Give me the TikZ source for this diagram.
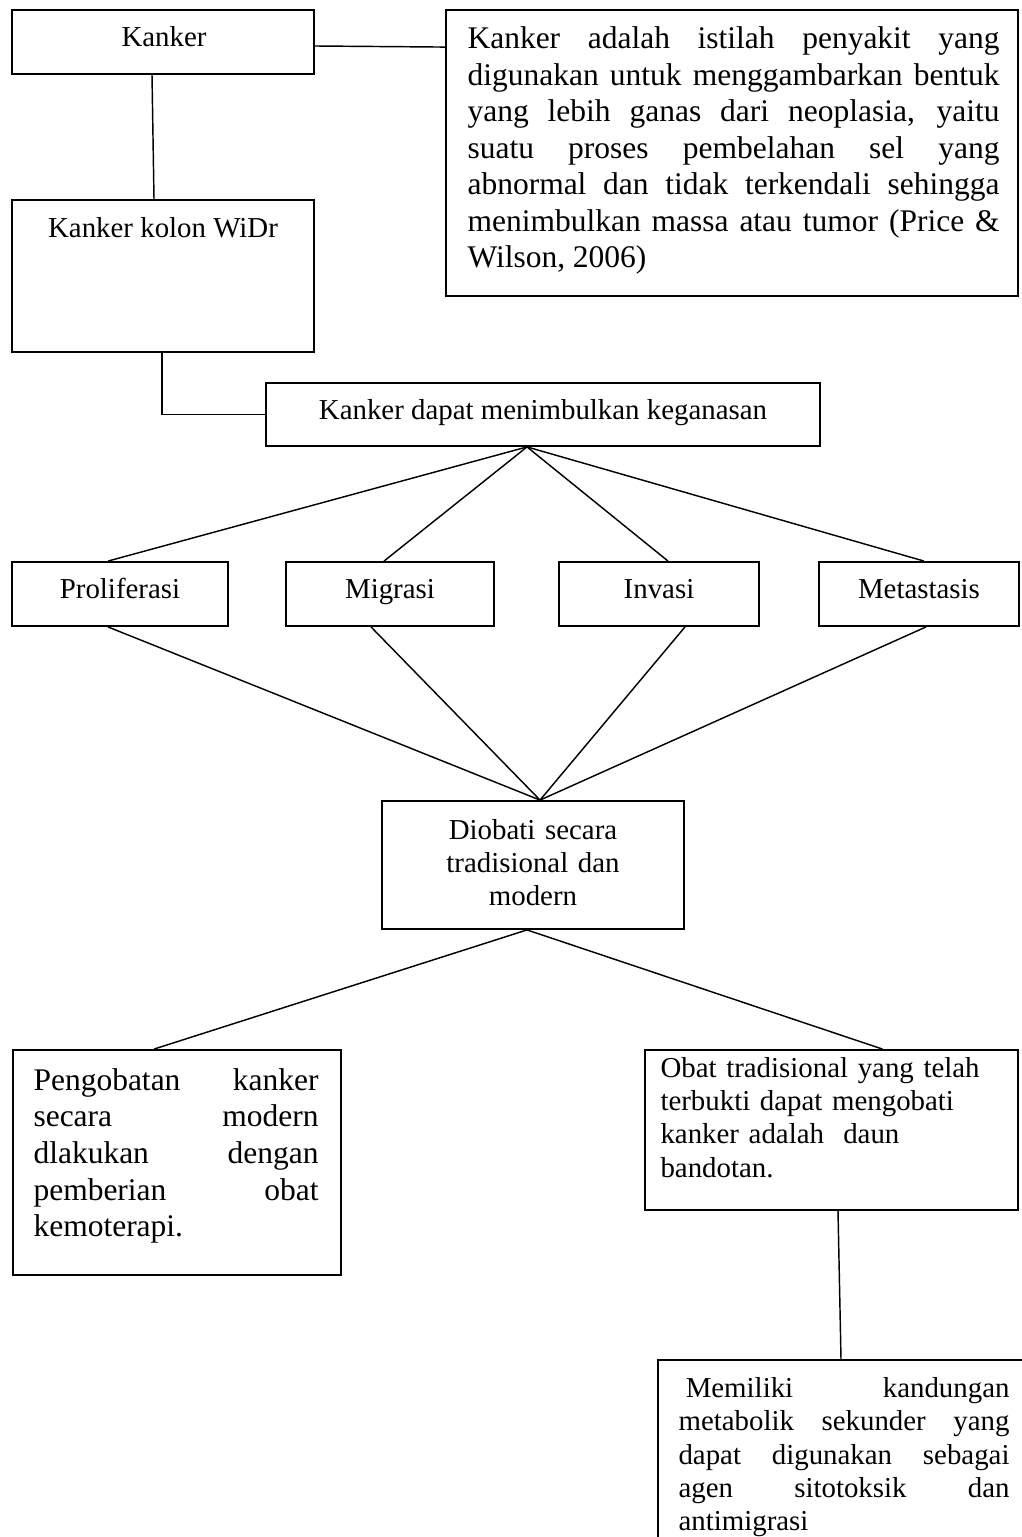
\documentclass[tikz,border=0pt]{standalone}
\usepackage{fontspec}
\setmainfont{Liberation Serif}
\tolerance=10000 \hbadness=10000 \pretolerance=-1 \hyphenpenalty=10000
\newcommand\pxu{0.381pt}
\tikzset{
  bx/.style={draw, line width=0.7pt, inner sep=0pt, rectangle},
  ln/.style={line width=0.55pt},
  fs/.style={font=\fontsize{11}{12.6}\selectfont, inner sep=0pt},
  fl/.style={font=\fontsize{12}{13.9}\selectfont, inner sep=0pt},
}
\begin{document}
\begin{tikzpicture}[x=0.381pt,y=-0.381pt]
\useasboundingbox (0,0) rectangle (1022,1537);
\clip (0,0) rectangle (1022,1537);

% boxes
\node[bx, minimum width=302*\pxu, minimum height=64*\pxu]  (A) at (163,42) {};
\node[bx, minimum width=572*\pxu, minimum height=286*\pxu] (B) at (732,153) {};
\node[bx, minimum width=302*\pxu, minimum height=152*\pxu] (C) at (163,276) {};
\node[bx, minimum width=554*\pxu, minimum height=63*\pxu]  (D) at (543,414.5) {};
\node[bx, minimum width=216*\pxu, minimum height=64*\pxu]  (P1) at (120,594) {};
\node[bx, minimum width=208*\pxu, minimum height=64*\pxu]  (P2) at (390,594) {};
\node[bx, minimum width=200*\pxu, minimum height=64*\pxu]  (P3) at (659,594) {};
\node[bx, minimum width=200*\pxu, minimum height=64*\pxu]  (P4) at (919,594) {};
\node[bx, minimum width=302*\pxu, minimum height=128*\pxu] (T) at (533,865) {};
\node[bx, minimum width=328*\pxu, minimum height=225*\pxu] (E) at (177,1162.5) {};
\node[bx, minimum width=373*\pxu, minimum height=160*\pxu] (F) at (831.5,1130) {};
\node[bx, minimum width=374*\pxu, minimum height=240*\pxu] (G) at (845,1480) {};

% texts
\node[fs, anchor=base] (tA) at (164,47) {Kanker};
\node[fl, anchor=base west, text width=202.7pt, align=justify] (tB) at (467,49)
 {Kanker adalah istilah penyakit yang\linebreak
  digunakan untuk menggambarkan bentuk\linebreak
  yang lebih ganas dari neoplasia, yaitu\linebreak
  suatu proses pembelahan sel yang\linebreak
  abnormal dan tidak terkendali sehingga\linebreak
  menimbulkan massa atau tumor (Price \&\linebreak
  Wilson, 2006)};
\node[fs, anchor=base] (tC) at (163,238) {Kanker kolon WiDr};
\node[fs, anchor=base] (tD) at (543,420) {Kanker dapat menimbulkan keganasan};
\node[fs, anchor=base] (tP1) at (120,598) {Proliferasi};
\node[fs, anchor=base] (tP2) at (390,598) {Migrasi};
\node[fs, anchor=base] (tP3) at (659,598) {Invasi};
\node[fs, anchor=base] (tP4) at (919,598) {Metastasis};
\node[fs, anchor=base, text width=110pt, align=center] (tT) at (533,839)
 {Diobati secara\\ tradisional dan\\ modern};
\node[fl, font=\fontsize{12}{14}\selectfont, anchor=base west, text width=108.6pt, align=justify] (tE) at (33,1090)
 {Pengobatan kanker\linebreak
  secara modern\linebreak
  dlakukan dengan\linebreak
  pemberian obat\linebreak
  kemoterapi.};
\node[fs, font=\fontsize{11}{12.7}\selectfont, anchor=base west, text width=135pt, align=left] (tF) at (660,1077)
 {Obat tradisional yang telah\\
  terbukti dapat mengobati\\
  kanker adalah\ \ daun\\
  bandotan.};
\node[fs, font=\fontsize{11}{12.76}\selectfont, anchor=base west, text width=126.1pt, align=justify] (tG) at (678,1397)
 {\hspace*{2.75pt}Memiliki kandungan\linebreak
  metabolik sekunder yang\linebreak
  dapat digunakan sebagai\linebreak
  agen sitotoksik dan\linebreak
  antimigrasi};

% connectors
\draw[ln] ([yshift=-4*\pxu]A.east) -- ([yshift=-38*\pxu]B.north west);
\draw[ln] ([xshift=-11*\pxu]A.south) -- ([xshift=-9*\pxu]C.north);
\draw[ln] ([xshift=-1*\pxu]C.south) |- (D.west);
\draw[ln] ([xshift=-16*\pxu]D.south) -- ([xshift=-12*\pxu]P1.north);
\draw[ln] ([xshift=-16*\pxu]D.south) -- ([xshift=-6*\pxu]P2.north);
\draw[ln] ([xshift=-16*\pxu]D.south) -- ([xshift=9*\pxu]P3.north);
\draw[ln] ([xshift=-16*\pxu]D.south) -- ([xshift=5*\pxu]P4.north);
\draw[ln] ([xshift=-12*\pxu]P1.south) -- ([xshift=7*\pxu]T.north);
\draw[ln] ([xshift=-19*\pxu]P2.south) -- ([xshift=7*\pxu]T.north);
\draw[ln] ([xshift=26*\pxu]P3.south) -- ([xshift=7*\pxu]T.north);
\draw[ln] ([xshift=7*\pxu]P4.south) -- ([xshift=7*\pxu]T.north);
\draw[ln] ([xshift=-6*\pxu]T.south) -- ([xshift=-23*\pxu]E.north);
\draw[ln] ([xshift=-6*\pxu]T.south) -- ([xshift=51*\pxu]F.north);
\draw[ln] ([xshift=6.5*\pxu]F.south) -- ([xshift=-4*\pxu]G.north);
\end{tikzpicture}
\end{document}
